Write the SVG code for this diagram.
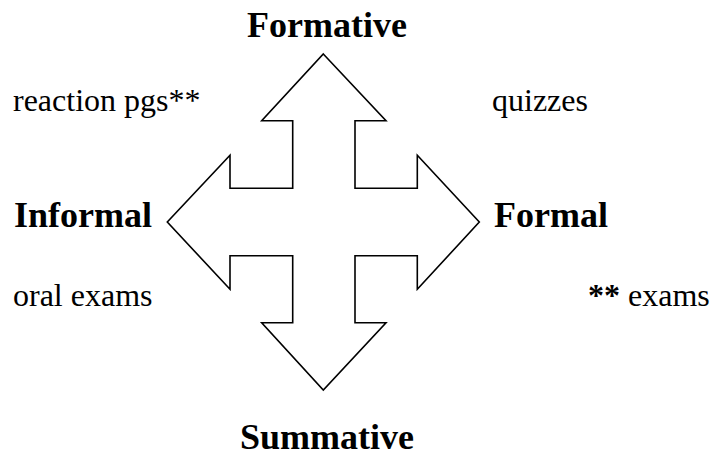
<svg xmlns="http://www.w3.org/2000/svg" width="714" height="456" viewBox="0 0 714 456">
<style>
.arrow{fill:#fff;stroke:#000;stroke-width:1.6;stroke-linejoin:miter}
.b{font-family:"Liberation Serif","Times New Roman",serif;font-weight:700;font-size:36px;fill:#000}
.reg{font-family:"Liberation Serif","Times New Roman",serif;font-weight:400;font-size:32px;fill:#000}
.bs{font-weight:700}
</style>
<rect width="714" height="456" fill="#fff"/>
<g id="connectors">
<polygon class="arrow" points="323.3,54 386,120.7 355,120.7 355,188.3 417.3,188.3 417.3,155.3 479.3,222 417.3,289.3 417.3,255.7 355,255.7 355,322.7 386,322.7 323.3,390 261.7,322.7 292.7,322.7 292.7,255.7 230,255.7 230,289.3 167.3,222 230,155.3 230,188.3 292.7,188.3 292.7,120.7 261.7,120.7"/>
</g>
<g id="formative"><text class="b" x="327" y="37" text-anchor="middle">Formative</text></g>
<g id="summative"><text class="b" x="327" y="449" text-anchor="middle">Summative</text></g>
<g id="informal"><text class="b" x="14" y="227">Informal</text></g>
<g id="formal"><text class="b" x="494" y="227">Formal</text></g>
<g id="reaction"><text class="reg" x="13" y="111">reaction pgs**</text></g>
<g id="quizzes"><text class="reg" x="492" y="111">quizzes</text></g>
<g id="oral"><text class="reg" x="13" y="306">oral exams</text></g>
<g id="exams"><text class="reg" x="588" y="306"><tspan class="bs">**</tspan> exams</text></g>
</svg>
